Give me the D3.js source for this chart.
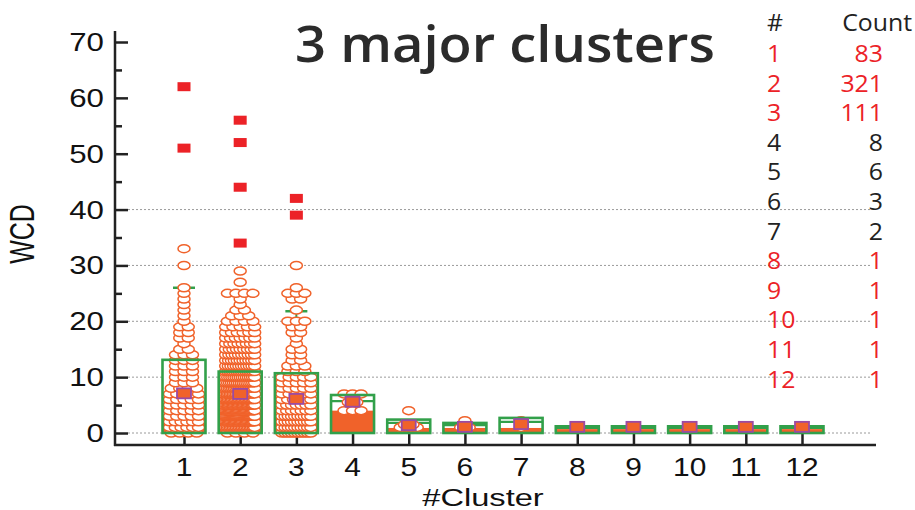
<!DOCTYPE html>
<html>
<head>
<meta charset="utf-8">
<script src="https://cdn.jsdelivr.net/npm/d3@7"></script>
<style>
  html, body { margin: 0; padding: 0; background: #fff; }
  svg { display: block; }
</style>
</head>
<body>
<svg id="chart" width="915" height="510"></svg>
<script>
// ---- data ----
const clusters = [1, 2, 3, 4, 5, 6, 7, 8, 9, 10, 11, 12];
const clusterCounts = [83, 321, 111, 8, 6, 3, 2, 1, 1, 1, 1, 1];
const majorFlags = [1, 1, 1, 0, 0, 0, 0, 1, 1, 1, 1, 1];

// box summaries per cluster (WCD)
const q3Values     = [13.1, 11.0, 10.7, 6.8, 2.4, 1.8, 2.7, 1.2, 1.2, 1.2, 1.2, 1.2];
const medianValues = [7.0, 7.0, 5.9, 5.7, 1.8, 1.4, 2.0, 0.9, 0.9, 0.9, 0.9, 0.9];
const meanValues   = [7.1, 7.0, 6.1, 5.6, 1.4, 1.1, 1.6, 1.1, 1.1, 1.1, 1.1, 1.1];
const lowerValues  = [2.8, 3.6, 3.0, 4.0, 0.9, 0.9, 0.9, 0.7, 0.7, 0.7, 0.7, 0.7];
const whiskerHigh  = [26, 21, 21.8, null, null, null, null, null, null, null, null, null];

// individual observations as [WCD value, number of observations]
const dots1 = [[0,4],[1,6],[2,6],[3,5],[4,5],[5,5],[6,5],[7,5],[8,4],[9,3],[10,3],[11,3],
  [12,3],[13,3],[14,3],[15,2],[16,1],[17,2],[18,2],[19,2],[20,1],[21,1],[22,1],[23,1],
  [24,1],[25,1],[26,1],[30,1],[33,1]];
const dots2 = [[0,4],[1,20],[2,25],[3,28],[4,26],[5,24],[6,22],[7,20],[8,18],[9,16],
  [10,15],[11,14],[12,12],[13,11],[14,10],[15,9],[16,8],[17,7],[18,6],[19,5],[20,4],
  [21,3],[22,2],[23,1],[24,1],[25,4],[27,1],[29,1]];
const dots3 = [[0,10],[1,10],[2,10],[3,10],[4,7],[5,7],[6,6],[7,5],[8,5],[9,5],[10,5],
  [11,3],[12,3],[13,2],[14,2],[15,2],[16,1],[17,1],[18,2],[19,2],[20,3],[22,1],[24,2],
  [25,3],[26,1],[30,1]];
const dots4 = [[4,3],[5.5,2],[7,3]];
const dots5 = [[1,3],[1.5,2],[4,1]];
const dots6 = [[1,2],[2.2,1]];
const dots7 = [[1,1],[2.2,1]];
const dots8 = [[1.1,1]];
const dots9 = [[1.1,1]];
const dots10 = [[1.1,1]];
const dots11 = [[1.1,1]];
const dots12 = [[1.1,1]];
const dotSets = [dots1, dots2, dots3, dots4, dots5, dots6, dots7, dots8, dots9, dots10, dots11, dots12];

// far-out values: [cluster, WCD]
const outliers = [[1,62],[1,51],[2,56],[2,52],[2,44],[2,34],[3,42],[3,39]];

const yTicks = [0, 10, 20, 30, 40, 50, 60, 70];
const gridTicks = [0, 10, 20, 30, 40];

// ---- layout ----
const svg = d3.select("#chart");
const green = "#32a04a", orange = "#f0622a", red = "#ec2227", purple = "#9b4aa3";
const x = d3.scaleLinear().domain([1, 12]).range([184, 802]);
const y = d3.scaleLinear().domain([0, 70]).range([433, 42]);
const axisX0 = 115, axisX1 = 876, axisY = 445;
const boxW = 43, rx = 6, ry = 4;
const sansA = "Liberation Sans, Arial, sans-serif";
const sansB = "Open Sans, Noto Sans, sans-serif";

// text with a horizontal stretch factor
function label(parent, tx, ty, txt, opts) {
  const o = Object.assign({ size: 24, sx: 1, anchor: "start", fill: "#111", family: sansA, weight: 400, rot: 0 }, opts);
  return parent.append("text")
    .attr("transform", `translate(${tx},${ty}) scale(${o.sx},1)` + (o.rot ? ` rotate(${o.rot})` : ""))
    .attr("text-anchor", o.anchor).attr("font-family", o.family)
    .attr("font-size", o.size).attr("font-weight", o.weight)
    .attr("fill", o.fill).text(txt);
}

// grid
svg.append("g").selectAll("line").data(gridTicks).join("line")
  .attr("x1", 128).attr("x2", axisX1 - 4)
  .attr("y1", d => y(d)).attr("y2", d => y(d))
  .attr("stroke", "#9a9a9a").attr("stroke-width", 1).attr("stroke-dasharray", "2,2");

// y axis (ticks drawn inward)
const yAxis = d3.axisRight(y).tickValues(d3.range(0, 71, 5)).tickSize(0).tickFormat("");
const gy = svg.append("g").attr("transform", `translate(${axisX0},0)`).call(yAxis);
gy.select(".domain").remove();
gy.selectAll(".tick line").attr("x2", d => d % 10 === 0 ? 13 : 7)
  .attr("stroke", "#222").attr("stroke-width", 2.5);
svg.append("line").attr("x1", axisX0).attr("x2", axisX0).attr("y1", 31).attr("y2", axisY + 1)
  .attr("stroke", "#222").attr("stroke-width", 2.5);
const gyl = svg.append("g");
yTicks.forEach(d => label(gyl, 104, y(d) + 9, d, { size: 25, sx: 1.25, anchor: "end" }));

// x axis
const xAxis = d3.axisBottom(x).tickValues(clusters).tickSize(0).tickFormat("");
const gx = svg.append("g").attr("transform", `translate(0,${axisY})`).call(xAxis);
gx.select(".domain").remove();
gx.selectAll(".tick line").attr("y2", -12).attr("stroke", "#222").attr("stroke-width", 2.5);
svg.append("line").attr("x1", axisX0 - 1).attr("x2", axisX1).attr("y1", axisY).attr("y2", axisY)
  .attr("stroke", "#222").attr("stroke-width", 2.5);
const gxl = svg.append("g");
clusters.forEach(d => label(gxl, x(d), 476, d, { size: 26, sx: 1.15, anchor: "middle" }));

// axis titles
label(svg, 483, 506, "#Cluster", { size: 24, sx: 1.36, anchor: "middle" });
label(svg, 34, 234, "WCD", { size: 25, sx: 1.4, anchor: "middle", rot: -90 });

// ---- boxes ----
const g = svg.append("g");
clusters.forEach((c, i) => {
  const cx = x(c), left = cx - boxW / 2;
  // box body
  g.append("rect").attr("x", left).attr("y", y(q3Values[i]))
    .attr("width", boxW).attr("height", y(0) - y(q3Values[i]))
    .attr("fill", "#fff");
  // lower filled part
  g.append("rect").attr("x", left).attr("y", y(lowerValues[i]))
    .attr("width", boxW).attr("height", y(0) - y(lowerValues[i]))
    .attr("fill", orange);
  // median
  g.append("line").attr("x1", left).attr("x2", left + boxW)
    .attr("y1", y(medianValues[i])).attr("y2", y(medianValues[i]))
    .attr("stroke", green).attr("stroke-width", 2.2);
  // upper whisker
  if (whiskerHigh[i] != null) {
    g.append("line").attr("x1", cx).attr("x2", cx)
      .attr("y1", y(q3Values[i])).attr("y2", y(whiskerHigh[i]))
      .attr("stroke", green).attr("stroke-width", 2);
    g.append("line").attr("x1", cx - 11).attr("x2", cx + 11)
      .attr("y1", y(whiskerHigh[i])).attr("y2", y(whiskerHigh[i]))
      .attr("stroke", green).attr("stroke-width", 2.5);
  }
  // observations, one row per value
  dotSets[i].forEach(([v, n]) => {
    const span = boxW - 2 * rx - 2;
    const step = n > 1 ? Math.min(8.5, span / (n - 1)) : 0;
    const start = cx - step * (n - 1) / 2;
    for (let k = 0; k < n; k++) {
      g.append("ellipse").attr("cx", start + k * step).attr("cy", y(v))
        .attr("rx", rx).attr("ry", ry)
        .attr("fill", "#fff").attr("stroke", orange).attr("stroke-width", 1.5);
    }
  });
  // box outline
  g.append("rect").attr("x", left).attr("y", y(q3Values[i]))
    .attr("width", boxW).attr("height", y(0) - y(q3Values[i]))
    .attr("fill", "none").attr("stroke", green).attr("stroke-width", 2.6);
});

// far-out values
g.selectAll(".out").data(outliers).join("rect").attr("class", "out")
  .attr("x", d => x(d[0]) - 6.5).attr("y", d => y(d[1]) - 4.5)
  .attr("width", 13).attr("height", 9).attr("fill", red);

// means
g.selectAll(".mean").data(clusters).join("rect").attr("class", "mean")
  .attr("x", d => x(d) - 7).attr("y", (d, i) => y(meanValues[i]) - 5)
  .attr("width", 14).attr("height", 10)
  .attr("fill", orange).attr("stroke", purple).attr("stroke-width", 1.8);

// ---- title ----
svg.append("text").attr("x", 505).attr("y", 62).attr("text-anchor", "middle")
  .attr("font-family", sansB).attr("font-size", 50).attr("font-weight", 600)
  .attr("fill", "#2b2b2b").attr("textLength", 420).attr("lengthAdjust", "spacingAndGlyphs")
  .text("3 major clusters");

// ---- count table ----
const tbl = svg.append("g");
const tOpt = { size: 23, sx: 1.08, family: sansB, weight: 500 };
label(tbl, 767, 31, "#", Object.assign({}, tOpt, { fill: "#222" }));
label(tbl, 912, 31, "Count", Object.assign({}, tOpt, { fill: "#222", anchor: "end" }));
clusters.forEach((c, i) => {
  const col = majorFlags[i] ? red : "#222";
  const by = 62 + i * 29.6;
  label(tbl, 767, by, c, Object.assign({}, tOpt, { fill: col }));
  label(tbl, 883, by, clusterCounts[i], Object.assign({}, tOpt, { fill: col, anchor: "end" }));
});
</script>
</body>
</html>
